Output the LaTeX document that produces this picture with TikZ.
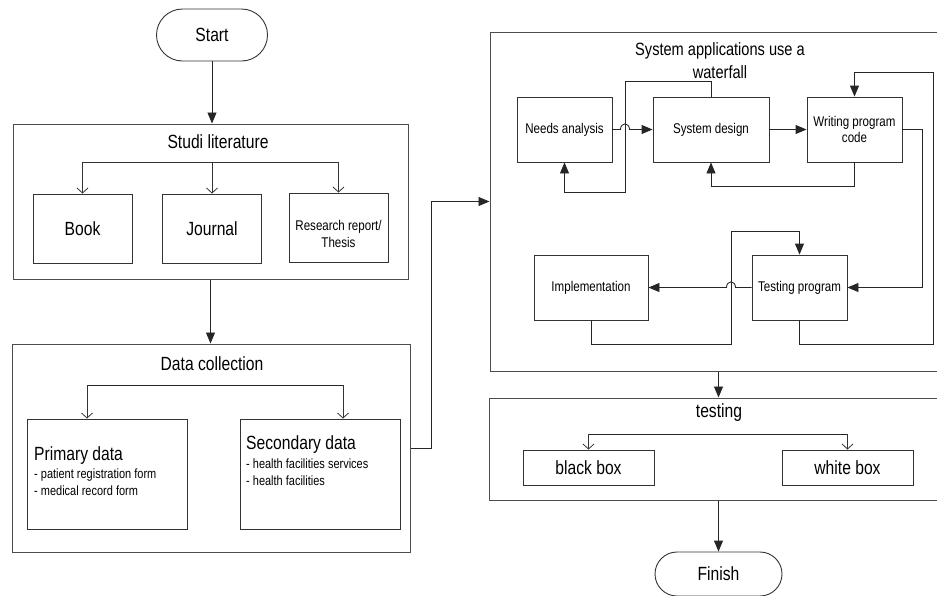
\documentclass[tikz,border=0pt]{standalone}
\usepackage{fontspec}
\setmainfont{Liberation Sans}[FakeStretch=0.82]
\usetikzlibrary{arrows.meta,calc,shapes.misc}

\begin{document}
\begin{tikzpicture}[x=1pt,y=-1pt,
  panel/.style={draw=black!70, line width=1pt, rectangle, inner sep=0pt},
  cell/.style={draw=black!80, line width=0.9pt, rectangle, inner sep=2pt, align=center},
  term/.style={draw=black!80, line width=0.9pt, rounded rectangle, inner sep=0pt},
  bigtext/.style={font=\fontsize{19.1}{22}\selectfont},
  midtext/.style={font=\fontsize{14.1}{16.5}\selectfont},
  itemtext/.style={font=\fontsize{13.4}{15}\selectfont},
  link/.style={draw=black!85, line width=0.9pt},
  arr/.style={link, -{Triangle[length=11pt,width=9pt]}},
  branch/.style={draw=black!80, line width=0.8pt, -{Straight Barb[length=5pt,width=11pt]}},
]
\useasboundingbox (0,0) rectangle (937,595);
\clip (0,0) rectangle (937,595);

% ---------- left column ----------
\node[term, minimum width=111, minimum height=52, bigtext] (start) at (212,35) {Start};

\node[panel, minimum width=395, minimum height=155] (studi) at (210.5,201.5) {};
\node[bigtext] (studiT) at (218,142) {Studi literature};
\node[cell, minimum width=99, minimum height=69, bigtext] (book) at (82.5,228.5) {Book};
\node[cell, minimum width=99, minimum height=69, bigtext] (journal) at (212,228.5) {Journal};
\node[cell, minimum width=99, minimum height=69] (research) at (338.5,227.5) {};
\node[midtext, align=center, inner sep=0pt] (researchT) at (338.5,234) {Research report/\\Thesis};

\node[panel, minimum width=398, minimum height=208] (data) at (211,448) {};
\node[bigtext] (dataT) at (212,364) {Data collection};
\node[cell, minimum width=160, minimum height=110] (prim) at (107,474) {};
\node[cell, minimum width=160, minimum height=110] (sec) at (320,474) {};
\node[bigtext, anchor=west, inner sep=0pt] (primT) at (34,456) {Primary data};
\node[itemtext, anchor=west, inner sep=0pt] (primA) at (34,475) {- patient registration form};
\node[itemtext, anchor=west, inner sep=0pt] (primB) at (34,491) {- medical record form};
\node[bigtext, anchor=west, inner sep=0pt] (secT) at (246,445) {Secondary data};
\node[itemtext, anchor=west, inner sep=0pt] (secA) at (246,464) {- health facilities services};
\node[itemtext, anchor=west, inner sep=0pt] (secB) at (246,481) {- health facilities};

% ---------- waterfall panel ----------
\node[panel, minimum width=470, minimum height=339] (wf) at (725,201.5) {};
\node[align=center, font=\fontsize{17.8}{23}\selectfont] (wfT) at (720,60.5) {System applications use a\\waterfall};
\node[cell, minimum width=95, minimum height=65, midtext] (needs) at (564.5,129.5) {Needs analysis};
\node[cell, minimum width=116, minimum height=65, midtext] (sysd) at (711,129.5) {System design};
\node[cell, minimum width=95, minimum height=65, midtext] (writing) at (854.5,129.5) {Writing program\\code};
\node[cell, minimum width=95, minimum height=65, midtext] (testing) at (799.5,287.5) {Testing program};
\node[cell, minimum width=114, minimum height=65, midtext] (impl) at (591,287.5) {Implementation};

% ---------- testing panel ----------
\node[panel, minimum width=471, minimum height=102] (tst) at (724.5,449) {};
\node[bigtext] (tstT) at (719,413) {testing};
\node[cell, minimum width=131, minimum height=35, bigtext] (black) at (588.5,467.5) {black box};
\node[cell, minimum width=131, minimum height=35, bigtext] (white) at (847.5,467.5) {white box};

\node[term, minimum width=127, minimum height=44, bigtext] (fin) at (718.5,574) {Finish};

% ---------- connectors: left column ----------
\draw[arr] (start.south) -- (start.south |- studi.north);
\coordinate (sj) at (212,162);
\draw[branch] (sj) -| (book.north);
\draw[branch] (sj) -- (journal.north);
\draw[branch] (sj) -| (research.north);

\draw[arr] (studi.south) -- (studi.south |- data.north);
\coordinate (dL) at (87,385);
\coordinate (dR) at (343,385);
\draw[link] (dL) -- (dR);
\draw[branch] (dL) -- (dL |- prim.north);
\draw[branch] (dR) -- (dR |- sec.north);

\draw[arr] (data.east) -- ++(21,0) |- (wf.west);

% ---------- connectors: waterfall ----------
\coordinate (hopA) at (625,129.5);
\draw[arr] (needs.east) -- ($(hopA)+(-4.5,0)$)
  .. controls ($(hopA)+(-4.5,-7.5)$) and ($(hopA)+(4.5,-7.5)$) .. ($(hopA)+(4.5,0)$)
  -- (sysd.west);
\draw[arr] (sysd.east) -- (writing.west);

\coordinate (fbA) at (625,81);
\coordinate (fbB) at (625,192);
\draw[arr] (sysd.north) |- (fbA) -- (fbB) -| (needs.south);

\draw[arr] (writing.south) -- ++(0,24) -| (sysd.south);
\draw[arr] (writing.east) -- ++(20,0) |- (testing.east);

\coordinate (hopB) at (731,287.5);
\draw[arr] (testing.west) -- ($(hopB)+(4.5,0)$)
  .. controls ($(hopB)+(4.5,-7.5)$) and ($(hopB)+(-4.5,-7.5)$) .. ($(hopB)+(-4.5,0)$)
  -- (impl.east);

\coordinate (lpA) at (731,231);
\draw[arr] (impl.south) -- ++(0,24) -| (lpA) -| (testing.north);

\coordinate (lpB) at (933,72);
\draw[arr] (testing.south) -- ++(0,24) -| (lpB) -| (writing.north);

% ---------- connectors: testing and finish ----------
\draw[arr] (wf.south -| fin.north) -- (tst.north -| fin.north);
\coordinate (tL) at (588.5,434);
\coordinate (tR) at (847.5,434);
\draw[link] (tL) -- (tR);
\draw[branch] (tL) -- (black.north);
\draw[branch] (tR) -- (white.north);
\draw[arr] (tst.south -| fin.north) -- (fin.north);
\end{tikzpicture}
\end{document}
